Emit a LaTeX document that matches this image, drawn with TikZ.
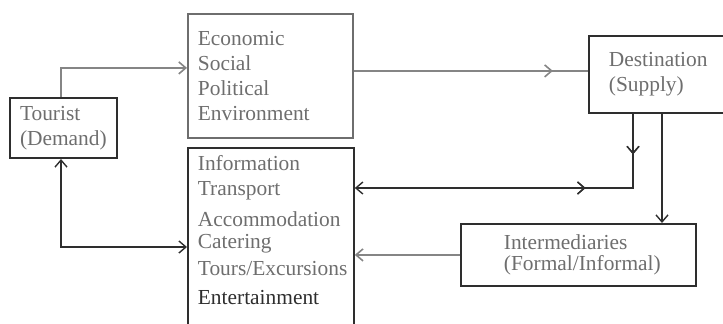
\documentclass[tikz,border=0pt]{standalone}
\usepackage{fontspec}
\setmainfont{Liberation Serif}
\usetikzlibrary{arrows.meta,decorations.markings}
\definecolor{ink}{HTML}{2E2E2E}
\definecolor{fade}{HTML}{6E6E6E}
\definecolor{wire}{HTML}{858585}
\tikzset{
  >={Straight Barb[length=3.5pt,width=6pt]},
  box/.style={
    draw=ink, rectangle, line width=0.9pt, align=left, anchor=north west,
    text=fade, font=\fontsize{10.7pt}{12.5pt}\selectfont, inner xsep=5pt
  },
  flow/.style={draw=wire, line width=0.8pt},
  link/.style={draw=ink, line width=0.7pt},
  tip at/.style={postaction={decorate}, decoration={markings,
    mark=at position #1 with {\arrow{>}}}},
  back at/.style={postaction={decorate}, decoration={markings,
    mark=at position #1 with {\arrow{<}}}},
}
\begin{document}
\begin{tikzpicture}[x=0.5pt,y=-0.5pt]
  \useasboundingbox (0,0) rectangle (723,323);
  \clip (0,0) rectangle (723,323);
  \node[box, text width=43.5pt, minimum height=30pt, line width=1pt] (tourist) at (9,97)
    {Tourist\\(Demand)};
  \node[box, draw=fade, text width=72.5pt, minimum height=62pt] (factors) at (187,13)
    {Economic\\Social\\Political\\Environment};
  % last line carries a strut so the box runs off the bottom edge
  \node[box, text width=73pt, inner ysep=4pt] (services) at (187,147)
    {Information\\Transport\\[3pt]Accommodation\\[-1.5pt]Catering\\[1pt]Tours/Excursions\\[2pt]{\color{ink}Entertainment}\rule[-14pt]{0pt}{1pt}};
  \node[box, text width=56pt, inner xsep=10pt, minimum height=38.5pt] (dest) at (588,35)
    {Destination\\(Supply)};
  \node[box, text width=74.5pt, inner xsep=21.5pt, minimum height=31pt] (inter) at (460,223)
    {Intermediaries\\[-2pt](Formal/Informal)};

  \draw[flow, ->] ([xshift=-1.25pt]tourist.north) |- ([yshift=4pt]factors.west);
  \draw[flow, tip at=0.85] ([yshift=2.5pt]factors.east) -- ([yshift=2.5pt]factors.east -| dest.west);
  \draw[link, ->, tip at=0.115, back at=0.37] ([xshift=22.5pt]dest.south west)
    |- ([yshift=-20.5pt]services.north east);
  \draw[link, ->] ([xshift=37pt]dest.south west) -- ([xshift=37pt]dest.south west |- inter.north);
  \draw[flow, ->] (inter.west) -- (inter.west -| services.east);
  \draw[link, <->] ([xshift=-1.25pt]tourist.south) |- ([yshift=-50pt]services.north west);
\end{tikzpicture}
\end{document}
